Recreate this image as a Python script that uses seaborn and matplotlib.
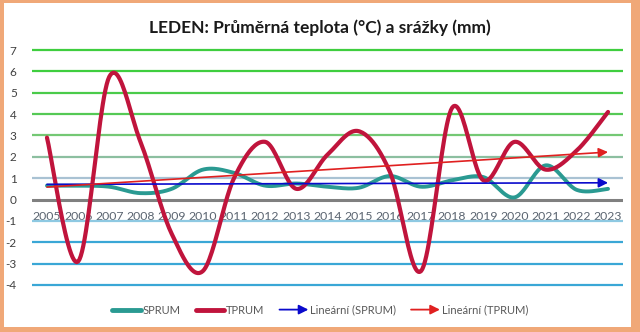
import numpy as np
import pandas as pd
import matplotlib
matplotlib.use("Agg")
import matplotlib.pyplot as plt
import seaborn as sns
from matplotlib.patches import Rectangle, FancyArrowPatch
from matplotlib.lines import Line2D
from matplotlib.legend_handler import HandlerBase

# ---- data ----
years = list(range(2005, 2024))
sprum = [0.65, 0.65, 0.6, 0.3, 0.5, 1.4, 1.25, 0.65, 0.75, 0.6, 0.55, 1.1, 0.6, 0.9, 1.05, 0.1, 1.6, 0.45, 0.5]
tprum = [2.9, -2.9, 5.75, 2.7, -1.6, -3.35, 1.0, 2.7, 0.5, 2.1, 3.2, 1.3, -3.35, 4.3, 0.9, 2.7, 1.4, 2.3, 4.1]
y_ticks = [7, 6, 5, 4, 3, 2, 1, 0, -1, -2, -3, -4]
title = "LEDEN: Průměrná teplota (°C) a srážky (mm)"
legend_labels = ["SPRUM", "TPRUM", "Lineární (SPRUM)", "Lineární (TPRUM)"]

# ---- styles ----
C_S = "#2a9a92"
C_T = "#c0143c"
C_TS = "#0a0acc"
C_TT = "#e02020"
grid_colors = {7: "#3fce3f", 6: "#3fce3f", 5: "#4acb4a", 4: "#55c955", 3: "#74c874",
               2: "#8cbfa0", 1: "#a9c2d3", 0: "#808080", -1: "#8ec9e2",
               -2: "#3aa7d6", -3: "#3aa7d6", -4: "#3aa7d6"}


def smooth(xs, ys, n=24):
    """Excel-like smoothed line (uniform Catmull-Rom / Bezier)."""
    xs = np.asarray(xs, float)
    ys = np.asarray(ys, float)
    P = np.column_stack([xs, ys])
    out = []
    for i in range(len(P) - 1):
        p0 = P[i - 1] if i > 0 else P[i]
        p1 = P[i]
        p2 = P[i + 1]
        p3 = P[i + 2] if i + 2 < len(P) else P[i + 1]
        c1 = p1 + (p2 - p0) / 6.0
        c2 = p2 - (p3 - p1) / 6.0
        t = np.linspace(0, 1, n, endpoint=(i == len(P) - 2))[:, None]
        b = ((1 - t) ** 3) * p1 + 3 * ((1 - t) ** 2) * t * c1 + 3 * (1 - t) * t ** 2 * c2 + t ** 3 * p2
        out.append(b)
    out = np.vstack(out)
    return out[:, 0], out[:, 1]


sns.set_theme(style="white")
plt.rcParams["font.family"] = ["Lato", "DejaVu Sans"]

fig = plt.figure(figsize=(6.4, 3.32), dpi=100)
fig.patch.set_facecolor("#f0a878")
fig.patches.append(Rectangle((4 / 640, 1 - 327 / 332), (631 - 4) / 640, (327 - 3) / 332,
                             transform=fig.transFigure, facecolor="white", edgecolor="none", zorder=-5))

ax = fig.add_axes([32 / 640, 0.1223, (623 - 32) / 640, 0.8687 - 0.1223])
ax.set_zorder(1)
ax.set_facecolor("none")
ax.set_xlim(2004.52, 2023.48)
ax.set_ylim(-4.3, 7.3)

# gridlines
for v in y_ticks:
    ax.axhline(v, color=grid_colors[v], lw=2.2 if v == 0 else 1.6, zorder=1)

xs_s, ys_s = smooth(years, sprum)
xs_t, ys_t = smooth(years, tprum)
df_s = pd.DataFrame({"x": xs_s, "y": ys_s})
df_t = pd.DataFrame({"x": xs_t, "y": ys_t})
sns.lineplot(data=df_s, x="x", y="y", sort=False, color=C_S, lw=2.8, ax=ax, zorder=3,
             solid_capstyle="round")
sns.lineplot(data=df_t, x="x", y="y", sort=False, color=C_T, lw=3.0, ax=ax, zorder=4,
             solid_capstyle="round")

# linear trends
yr = np.array(years, float)
for vals, col in [(sprum, C_TS), (tprum, C_TT)]:
    k, q = np.polyfit(yr, vals, 1)
    ax.annotate("", xy=(yr[-1], k * yr[-1] + q), xytext=(yr[0], k * yr[0] + q),
                arrowprops=dict(arrowstyle="-|>", color=col, lw=1.2, mutation_scale=14,
                                shrinkA=0, shrinkB=0), zorder=5)

# axes
for s in ax.spines.values():
    s.set_visible(False)
ax.spines["bottom"].set_position(("data", 0))
ax.set_yticks(y_ticks)
ax.set_yticklabels([str(v) for v in y_ticks], fontsize=8.5, color="#404040")
ax.set_xticks(years)
ax.set_xticklabels([str(y) for y in years], fontsize=8.8, color="#5a6470")
ax.tick_params(axis="x", length=0, pad=8)
ax.tick_params(axis="y", length=0, pad=11)
ax.set_xlabel("")
ax.set_ylabel("")
ax.grid(False)

fig.text(0.5, 0.918, title, ha="center", va="center", fontsize=12.5, fontweight="bold", color="#1a1a1a")


class ArrowHandler(HandlerBase):
    def create_artists(self, legend, orig_handle, xdescent, ydescent, width, height, fontsize, trans):
        y = height / 2 - ydescent
        p = FancyArrowPatch((-xdescent, y), (width - xdescent, y), arrowstyle="-|>",
                            mutation_scale=14, color=orig_handle.get_color(), lw=1.3,
                            shrinkA=0, shrinkB=0, transform=trans)
        return [p]


h1 = Line2D([], [], color=C_S, lw=3.5, solid_capstyle="round")
h2 = Line2D([], [], color=C_T, lw=3.5, solid_capstyle="round")
h3 = Line2D([], [], color=C_TS)
h4 = Line2D([], [], color=C_TT)
leg = fig.legend([h1, h2, h3, h4], legend_labels, loc="center", bbox_to_anchor=(0.5, 1 - 310 / 332),
                 ncol=4, frameon=False, fontsize=8, handlelength=2.6, handletextpad=0.15,
                 columnspacing=1.35, handler_map={h3: ArrowHandler(), h4: ArrowHandler()})
for t in leg.get_texts():
    t.set_color("#595959")

fig.savefig("out.png", dpi=100, facecolor=fig.get_facecolor())
